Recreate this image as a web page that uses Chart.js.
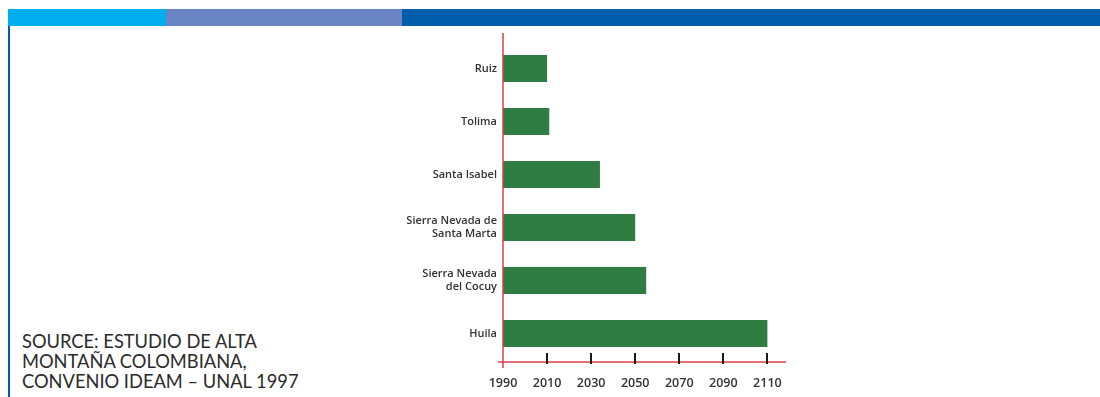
<!DOCTYPE html>
<html>
<head>
<meta charset="utf-8">
<script src="https://cdn.jsdelivr.net/npm/chart.js@4"></script>
<style>
  html, body { margin: 0; padding: 0; background: #fff; }
  body { width: 1100px; height: 397px; position: relative; overflow: hidden; }
  .band { position: absolute; top: 9px; height: 17px; }
  .b1 { left: 8px; width: 158px; background: #00aeef; }
  .b2 { left: 166px; width: 236px; background: #6a85c4; }
  .b3 { left: 402px; width: 698px; background: #005dab; }
  .rule { position: absolute; left: 8px; top: 26px; width: 2px; height: 371px; background: #005dab; }
  .source {
    position: absolute; left: 22px; top: 331px;
    font-family: Lato, "Open Sans", sans-serif; font-size: 18.3px; line-height: 20px;
    color: #2b2b2b;
  }
  .wrap { position: absolute; left: 380px; top: 26px; width: 430px; height: 371px; }
</style>
</head>
<body>
<div class="band b1"></div>
<div class="band b2"></div>
<div class="band b3"></div>
<div class="rule"></div>
<div class="source">SOURCE: ESTUDIO DE ALTA<br>MONTAÑA COLOMBIANA,<br>CONVENIO IDEAM – UNAL 1997</div>
<div class="wrap"><canvas id="chart"></canvas></div>
<script>
// Glaciers and the year they are expected to disappear
var glaciers = [
    'Ruiz',
    'Tolima',
    'Santa Isabel',
    ['Sierra Nevada de', 'Santa Marta'],
    ['Sierra Nevada', 'del Cocuy'],
    'Huila'
];
var years = [2010, 2011, 2034, 2050, 2055, 2110];
var yearTicks = [1990, 2010, 2030, 2050, 2070, 2090, 2110];

var red = '#d8404a';

// red axis lines plus black tick marks crossing the x axis
var axisLines = {
    id: 'axisLines',
    afterDatasetsDraw(chart) {
        const ctx = chart.ctx;
        const x = chart.scales.x;
        const area = chart.chartArea;
        ctx.save();
        ctx.strokeStyle = red;
        ctx.lineWidth = 1.5;
        ctx.beginPath();
        ctx.moveTo(area.left, 7);
        ctx.lineTo(area.left, area.bottom + 8);
        ctx.moveTo(area.left - 5, area.bottom + 2);
        ctx.lineTo(area.right + 1, area.bottom + 2);
        ctx.stroke();
        ctx.strokeStyle = '#1a1a1a';
        ctx.lineWidth = 2;
        yearTicks.slice(1).forEach(function (t) {
            const px = Math.round(x.getPixelForValue(t));
            ctx.beginPath();
            ctx.moveTo(px, area.bottom - 7);
            ctx.lineTo(px, area.bottom + 4);
            ctx.stroke();
        });
        ctx.restore();
    }
};

new Chart(document.getElementById('chart'), {
    type: 'bar',
    data: {
        labels: glaciers,
        datasets: [{
            data: years.map(function (y) { return [1990, y]; }),
            backgroundColor: '#2f7d43',
            borderWidth: 0,
            categoryPercentage: 1,
            barPercentage: 0.51
        }]
    },
    options: {
        indexAxis: 'y',
        responsive: true,
        maintainAspectRatio: false,
        animation: false,
        layout: { padding: { top: 16, right: 25, bottom: 0, left: 0 } },
        plugins: { legend: { display: false }, tooltip: { enabled: false } },
        scales: {
            x: {
                min: 1990,
                max: 2118,
                afterBuildTicks: function (scale) {
                    scale.ticks = yearTicks.map(function (v) { return { value: v }; });
                },
                afterFit: function (scale) { scale.height = 37; },
                grid: { display: false, drawTicks: false },
                border: { display: false },
                ticks: {
                    padding: 16,
                    color: '#333',
                    font: { family: 'Open Sans', size: 12.5, weight: '600' },
                    maxRotation: 0,
                    callback: function (v) { return String(v); }
                }
            },
            y: {
                afterFit: function (scale) { scale.width = 123; },
                grid: { display: false, drawTicks: false },
                border: { display: false },
                ticks: {
                    padding: 6,
                    color: '#333',
                    font: { family: 'Open Sans', size: 11, weight: '600' }
                }
            }
        }
    },
    plugins: [axisLines]
});
</script>
</body>
</html>
